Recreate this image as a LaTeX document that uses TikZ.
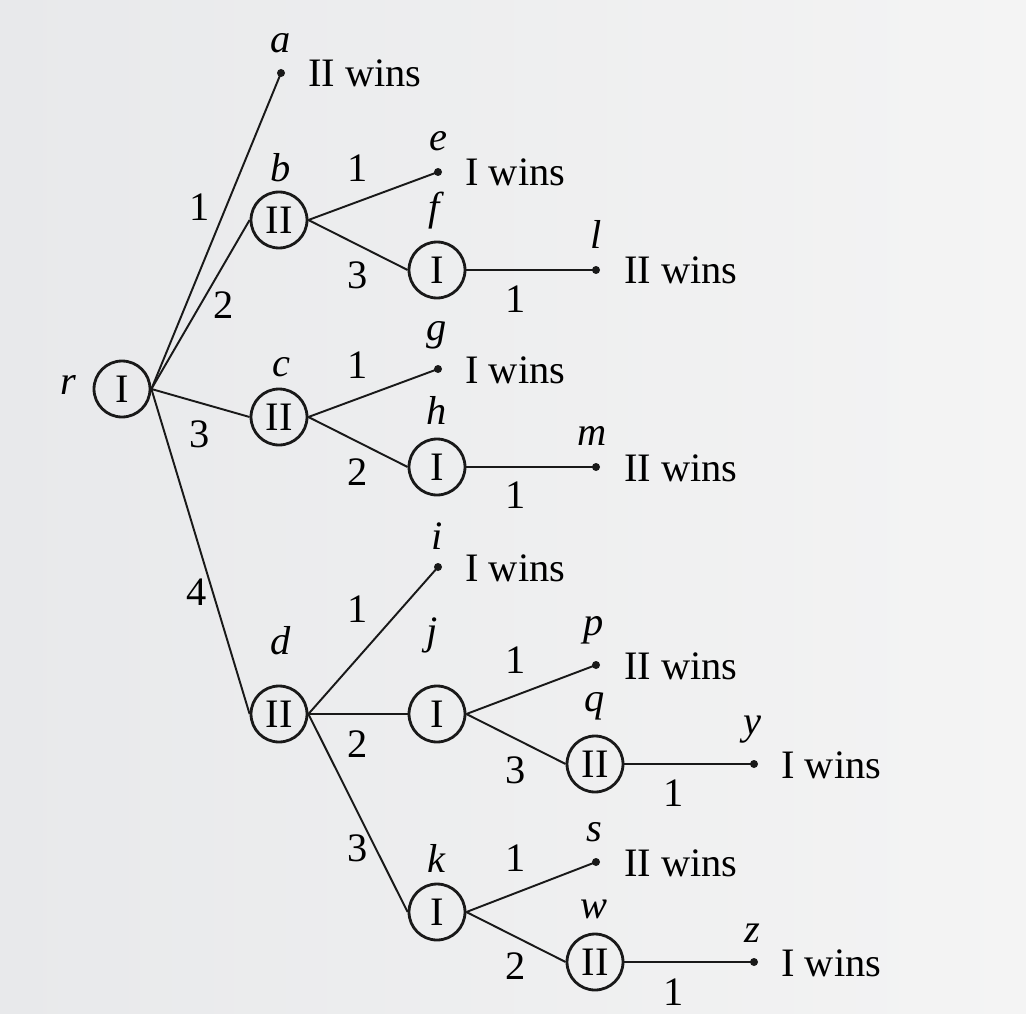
\documentclass[tikz,border=0pt]{standalone}
\usepackage{fontspec}
\setmainfont{Liberation Serif}
\definecolor{bgleft}{RGB}{232,233,235}
\definecolor{bgright}{RGB}{244,244,244}
\begin{document}
\begin{tikzpicture}[x=0.02cm,y=-0.02cm,
  player/.style={circle,draw=black!90,line width=1.6pt,minimum size=1.12cm,inner sep=0pt,font=\fontsize{23}{27}\selectfont},
  leaf/.style={circle,fill=black!90,minimum size=0.16cm,inner sep=0pt},
  edge/.style={draw=black!90,line width=1.1pt},
  lbl/.style={font=\fontsize{23}{27}\selectfont\itshape,inner sep=0pt},
  num/.style={font=\fontsize{23}{27}\selectfont,inner sep=0pt},
  res/.style={font=\fontsize{23}{27}\selectfont,inner sep=0pt,anchor=west}]
\shade[left color=bgleft,right color=bgright] (0,0) rectangle (1026,1013);
\useasboundingbox (0,0) rectangle (1026,1013);
% nodes
\node[player] (r) at (122,389) {I};
\node[leaf] (a) at (281,73) {};
\node[player] (b) at (279,220) {II};
\node[player] (c) at (279,417) {II};
\node[player] (d) at (279,714) {II};
\node[leaf] (e) at (438,172) {};
\node[player] (f) at (437,270) {I};
\node[leaf] (g) at (438,369) {};
\node[player] (h) at (437,467) {I};
\node[leaf] (i) at (438,567) {};
\node[player] (j) at (437,714) {I};
\node[player] (k) at (437,912) {I};
\node[leaf] (l) at (596,270) {};
\node[leaf] (m) at (596,467) {};
\node[leaf] (p) at (596,665) {};
\node[player] (q) at (595,764) {II};
\node[leaf] (s) at (596,862) {};
\node[player] (w) at (595,962) {II};
\node[leaf] (y) at (754,764) {};
\node[leaf] (z) at (754,962) {};
% names
\node[lbl] (rl) at (68,385) {r};
\node[lbl] (al) at (281,43) {a};
\node[lbl] (bl) at (281,168) {b};
\node[lbl] (cl) at (281,367) {c};
\node[lbl] (dl) at (281,641) {d};
\node[lbl] (el) at (438,141) {e};
\node[lbl] (fl) at (434,211) {f};
\node[lbl] (gl) at (437,335) {g};
\node[lbl] (hl) at (437,410) {h};
\node[lbl] (il) at (437,536) {i};
\node[lbl] (jl) at (432,635) {j};
\node[lbl] (kl) at (436,858) {k};
\node[lbl] (ll) at (596,234) {l};
\node[lbl] (ml) at (592,436) {m};
\node[lbl] (pl) at (594,630) {p};
\node[lbl] (ql) at (595,706) {q};
\node[lbl] (sl) at (594,832) {s};
\node[lbl] (wl) at (594,909) {w};
\node[lbl] (yl) at (752,730) {y};
\node[lbl] (zl) at (752,933) {z};
% results
\node[res] (ar) at (308,73) {II wins};
\node[res] (er) at (465,172) {I wins};
\node[res] (gr) at (465,370) {I wins};
\node[res] (ir) at (465,568) {I wins};
\node[res] (lr) at (624,270) {II wins};
\node[res] (mr) at (624,468) {II wins};
\node[res] (pr) at (624,666) {II wins};
\node[res] (sr) at (624,863) {II wins};
\node[res] (yr) at (781,765) {I wins};
\node[res] (zr) at (781,963) {I wins};
% edges
\draw[edge] (r.east) -- (a.center);
\draw[edge] (r.east) -- (b.west);
\draw[edge] (r.east) -- (c.west);
\draw[edge] (r.east) -- (d.west);
\draw[edge] (b.east) -- (e.center);
\draw[edge] (b.east) -- (f.west);
\draw[edge] (c.east) -- (g.center);
\draw[edge] (c.east) -- (h.west);
\draw[edge] (d.east) -- (i.center);
\draw[edge] (d.east) -- (j.west);
\draw[edge] (d.east) -- (k.west);
\draw[edge] (f.east) -- (l.center);
\draw[edge] (h.east) -- (m.center);
\draw[edge] (j.east) -- (p.center);
\draw[edge] (j.east) -- (q.west);
\draw[edge] (k.east) -- (s.center);
\draw[edge] (k.east) -- (w.west);
\draw[edge] (q.east) -- (y.center);
\draw[edge] (w.east) -- (z.center);
% edge numbers
\node[num] (n1) at (200,207) {1};
\node[num] (n2) at (224,305) {2};
\node[num] (n3) at (200,434) {3};
\node[num] (n4) at (197,592) {4};
\node[num] (n5) at (358,168) {1};
\node[num] (n6) at (358,275) {3};
\node[num] (n7) at (516,299) {1};
\node[num] (n8) at (358,365) {1};
\node[num] (n9) at (358,472) {2};
\node[num] (n10) at (516,495) {1};
\node[num] (n11) at (358,609) {1};
\node[num] (n12) at (358,744) {2};
\node[num] (n13) at (358,848) {3};
\node[num] (n14) at (516,660) {1};
\node[num] (n15) at (516,770) {3};
\node[num] (n16) at (674,793) {1};
\node[num] (n17) at (516,858) {1};
\node[num] (n18) at (516,966) {2};
\node[num] (n19) at (674,992) {1};
\end{tikzpicture}
\end{document}
